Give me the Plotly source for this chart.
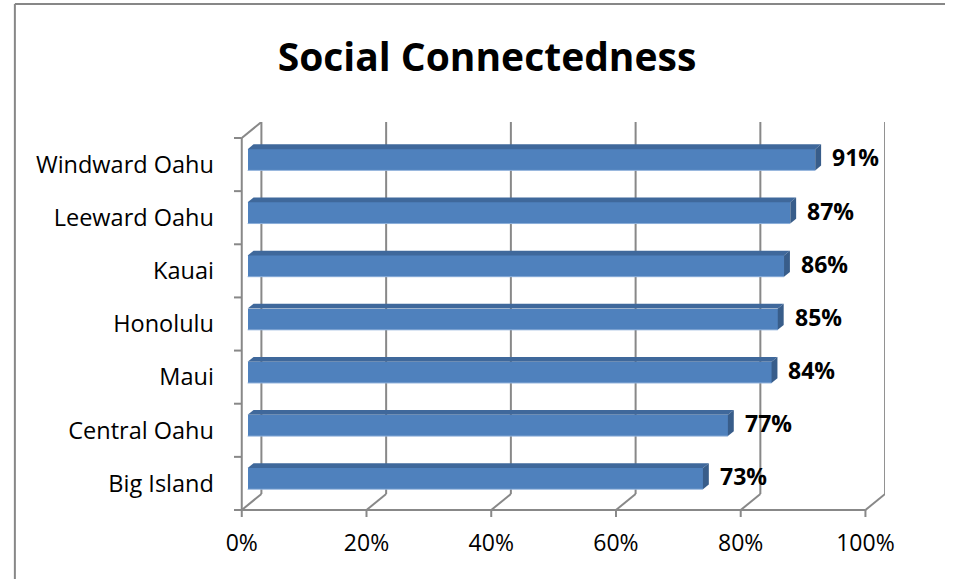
import plotly.graph_objects as go

# Survey results: share reporting social connectedness, by region
regions = ["Big Island", "Central Oahu", "Maui", "Honolulu", "Kauai", "Leeward Oahu", "Windward Oahu"]
values = [73, 77, 84, 85, 86, 87, 91]
x_ticks = [0, 20, 40, 60, 80, 100]
x_tick_labels = ["0%", "20%", "40%", "60%", "80%", "100%"]

W, H = 954, 579
FONT = "Open Sans"

# Pixel geometry of the pseudo-3D plot box
PX_X0, PX_X100 = 238, 873          # front plane: 0% and 100%
PX_Y_BOT, PX_Y_TOP = 510, 138      # front plane: bottom and top of category band
PX_DEPTH_X, PX_DEPTH_Y = 20, 16    # offset of the back wall
PX_TICK_X, PX_TICK_Y = 8, 7        # tick mark lengths

px_per_pct = (PX_X100 - PX_X0) / 100.0
px_per_cat = (PX_Y_BOT - PX_Y_TOP) / len(regions)
DX = PX_DEPTH_X / px_per_pct
DY = PX_DEPTH_Y / px_per_cat
TX = PX_TICK_X / px_per_pct
TY = PX_TICK_Y / px_per_cat

y_lo, y_hi = -0.5, len(regions) - 0.5
x_range = [-TX, 100 + DX]
y_range = [y_lo - TY, y_hi + DY]
x_dom = [(PX_X0 - PX_TICK_X) / W, (PX_X100 + PX_DEPTH_X) / W]
y_dom = [1 - (PX_Y_BOT + PX_TICK_Y) / H, 1 - (PX_Y_TOP - PX_DEPTH_Y) / H]

# Bars sit between 30% and 60% of the box depth
F_FRONT, F_BACK = 0.3, 0.6
BAR_W = 0.4
FRONT = "#4F81BD"
TOP = "#3F689B"
SIDE = "#385D8A"
GRID = "#888888"

fig = go.Figure()

# Front faces
fig.add_trace(go.Bar(
    y=list(range(len(regions))), x=values, base=F_FRONT * DX,
    orientation="h", width=BAR_W, offset=-BAR_W / 2 + F_FRONT * DY,
    marker=dict(color=FRONT, line=dict(width=0)),
    hoverinfo="skip", showlegend=False,
))

shapes = []
annotations = []
for i, v in enumerate(values):
    xa = F_FRONT * DX
    xb = v + F_FRONT * DX
    yb = i - BAR_W / 2 + F_FRONT * DY
    yt = i + BAR_W / 2 + F_FRONT * DY
    ddx = (F_BACK - F_FRONT) * DX
    ddy = (F_BACK - F_FRONT) * DY
    # top face
    shapes.append(dict(type="path", xref="x", yref="y", layer="above",
                       path=f"M{xa},{yt} L{xb},{yt} L{xb+ddx},{yt+ddy} L{xa+ddx},{yt+ddy} Z",
                       fillcolor=TOP, line=dict(width=0)))
    # side face
    shapes.append(dict(type="path", xref="x", yref="y", layer="above",
                       path=f"M{xb},{yb} L{xb},{yt} L{xb+ddx},{yt+ddy} L{xb+ddx},{yb+ddy} Z",
                       fillcolor=SIDE, line=dict(width=0)))
    # light lower edge of the front face
    shapes.append(dict(type="line", xref="x", yref="y", layer="above",
                       x0=xa, x1=xb, y0=yb, y1=yb,
                       line=dict(color="#8EB0DA", width=1)))
    # value label
    annotations.append(dict(x=v + F_BACK * DX, y=i + (F_FRONT + F_BACK) / 2 * DY,
                            xref="x", yref="y", text=f"<b>{v}%</b>", showarrow=False,
                            xanchor="left", yanchor="middle", xshift=9,
                            font=dict(family=FONT, size=23, color="#000000")))

# Back wall gridlines and floor diagonals
for t in x_ticks:
    shapes.append(dict(type="line", xref="x", yref="y", layer="below",
                       x0=t + DX, x1=t + DX, y0=y_lo + DY, y1=y_hi + DY,
                       line=dict(color=GRID, width=2)))
    shapes.append(dict(type="line", xref="x", yref="y", layer="below",
                       x0=t, x1=t + DX, y0=y_lo, y1=y_lo + DY,
                       line=dict(color=GRID, width=2)))
    # tick mark below the floor
    shapes.append(dict(type="line", xref="x", yref="y", layer="below",
                       x0=t, x1=t, y0=y_lo, y1=y_lo - TY,
                       line=dict(color=GRID, width=2)))

# Floor front edge and left wall
shapes.append(dict(type="line", xref="x", yref="y", layer="below",
                   x0=0, x1=100, y0=y_lo, y1=y_lo, line=dict(color=GRID, width=2)))
shapes.append(dict(type="line", xref="x", yref="y", layer="below",
                   x0=0, x1=0, y0=y_lo, y1=y_hi, line=dict(color=GRID, width=2)))
shapes.append(dict(type="line", xref="x", yref="y", layer="below",
                   x0=0, x1=DX, y0=y_hi, y1=y_hi + DY, line=dict(color=GRID, width=2)))
for k in range(len(regions) + 1):
    yb = y_lo + k
    shapes.append(dict(type="line", xref="x", yref="y", layer="below",
                       x0=-TX, x1=0, y0=yb, y1=yb, line=dict(color=GRID, width=2)))

# Outer chart border
shapes.append(dict(type="line", xref="paper", yref="paper",
                   x0=7 / W, x1=1, y0=1 - 4 / H, y1=1 - 4 / H,
                   line=dict(color="#878787", width=2)))
shapes.append(dict(type="line", xref="paper", yref="paper",
                   x0=7 / W, x1=7 / W, y0=0, y1=1 - 4 / H,
                   line=dict(color="#878787", width=2)))

fig.update_layout(
    width=W, height=H,
    margin=dict(l=0, r=0, t=0, b=0),
    paper_bgcolor="white", plot_bgcolor="rgba(0,0,0,0)",
    shapes=shapes,
    annotations=annotations,
    bargap=0,
    title=dict(text="<b>Social Connectedness</b>", x=487 / W, xanchor="center",
               y=1 - 57 / H, yanchor="middle",
               font=dict(family=FONT, size=39, color="#000000")),
    xaxis=dict(range=x_range, domain=x_dom, tickvals=x_ticks, ticktext=x_tick_labels,
               showgrid=False, zeroline=False, showline=False, ticks="",
               ticklabelstandoff=10,
               tickfont=dict(family=FONT, size=23, color="#000000")),
    yaxis=dict(range=y_range, domain=y_dom, tickvals=list(range(len(regions))),
               ticktext=regions, showgrid=False, zeroline=False, showline=False,
               ticks="", ticklabelstandoff=19,
               tickfont=dict(family=FONT, size=23.5, color="#000000")),
)

fig.write_html("out.html")
